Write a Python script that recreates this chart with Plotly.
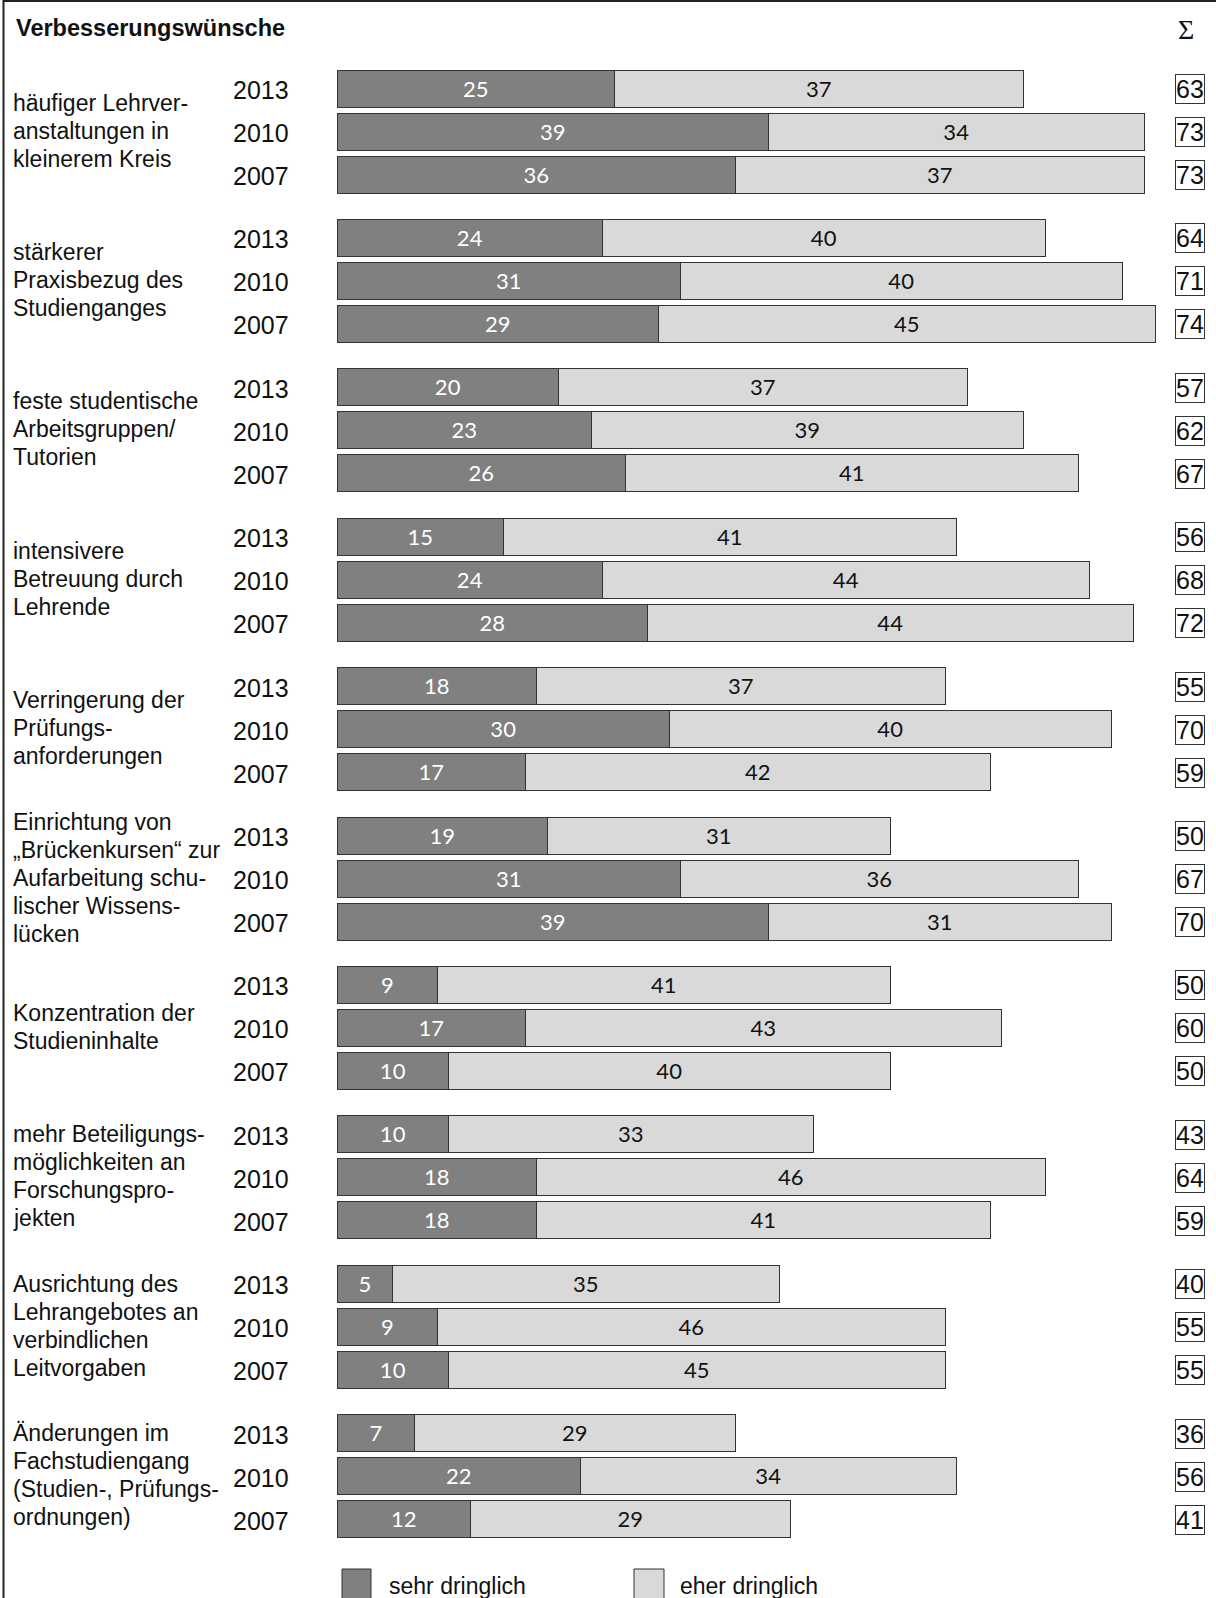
import plotly.graph_objects as go

# ---------------- data ----------------
years = ["2013", "2010", "2007"]

categories = [
    ["häufiger Lehrver-", "anstaltungen in", "kleinerem Kreis"],
    ["stärkerer", "Praxisbezug des", "Studienganges"],
    ["feste studentische", "Arbeitsgruppen/", "Tutorien"],
    ["intensivere", "Betreuung durch", "Lehrende"],
    ["Verringerung der", "Prüfungs-", "anforderungen"],
    ["Einrichtung von", "„Brückenkursen“ zur", "Aufarbeitung schu-", "lischer Wissens-", "lücken"],
    ["Konzentration der", "Studieninhalte"],
    ["mehr Beteiligungs-", "möglichkeiten an", "Forschungspro-", "jekten"],
    ["Ausrichtung des", "Lehrangebotes an", "verbindlichen", "Leitvorgaben"],
    ["Änderungen im", "Fachstudiengang", "(Studien-, Prüfungs-", "ordnungen)"],
]

# values per category in order 2013, 2010, 2007
sehr_dringlich = [
    [25, 39, 36], [24, 31, 29], [20, 23, 26], [15, 24, 28], [18, 30, 17],
    [19, 31, 39], [9, 17, 10], [10, 18, 18], [5, 9, 10], [7, 22, 12],
]
eher_dringlich = [
    [37, 34, 37], [40, 40, 45], [37, 39, 41], [41, 44, 44], [37, 40, 42],
    [31, 36, 31], [41, 43, 40], [33, 46, 41], [35, 46, 45], [29, 34, 29],
]
summe = [
    [63, 73, 73], [64, 71, 74], [57, 62, 67], [56, 68, 72], [55, 70, 59],
    [50, 67, 70], [50, 60, 50], [43, 64, 59], [40, 55, 55], [36, 56, 41],
]

title = "Verbesserungswünsche"
legend_names = ["sehr dringlich", "eher dringlich"]

# ---------------- layout geometry (pixels) ----------------
W, H = 1216, 1598
BAR_X0 = 338          # pixel position of value 0
PX_PER_UNIT = 11.06
Y0 = 89.0             # center of first bar
GROUP_STEP = 149.4
BAR_STEP = 43.0
BAR_H = 37
DARK = "#808080"
LIGHT = "#d9d9d9"
EDGE = "#333333"
SANS = "Liberation Sans, Arial, sans-serif"
BARFONT = "Lato, Calibri, sans-serif"


def px(xp):
    return xp / W


def ypos(i, j):
    return Y0 + i * GROUP_STEP + j * BAR_STEP


ys, v_sehr, v_eher = [], [], []
for i in range(len(categories)):
    for j in range(len(years)):
        ys.append(ypos(i, j))
        v_sehr.append(sehr_dringlich[i][j])
        v_eher.append(eher_dringlich[i][j])

fig = go.Figure()
fig.add_trace(go.Bar(
    orientation="h", x=v_sehr, y=ys, width=BAR_H, name=legend_names[0],
    marker=dict(color=DARK, line=dict(color=EDGE, width=1.5)),
    text=[str(v) for v in v_sehr], textposition="inside", insidetextanchor="middle",
    textangle=0, textfont=dict(family=BARFONT, size=22, color="white"),
    showlegend=False,
))
fig.add_trace(go.Bar(
    orientation="h", x=v_eher, y=ys, width=BAR_H, name=legend_names[1],
    marker=dict(color=LIGHT, line=dict(color=EDGE, width=1.5)),
    text=[str(v) for v in v_eher], textposition="inside", insidetextanchor="middle",
    textangle=0, textfont=dict(family=BARFONT, size=22, color="#111111"),
    showlegend=False,
))

ann = []
# title and sigma
ann.append(dict(x=px(14), y=28, xref="paper", yref="y", text="<b>" + title + "</b>",
                showarrow=False, xanchor="left", yanchor="middle",
                font=dict(family=SANS, size=23.5, color="#111")))
ann.append(dict(x=px(1186), y=29, xref="paper", yref="y", text="Σ",
                showarrow=False, xanchor="center", yanchor="middle",
                font=dict(family="Liberation Serif, Times New Roman, serif", size=28, color="#111")))

LINE_STEP = 28
for i, lines in enumerate(categories):
    yc = ypos(i, 1) - 1.5
    n = len(lines)
    for k, line in enumerate(lines):
        ann.append(dict(x=px(11), y=yc + (k - (n - 1) / 2) * LINE_STEP, xref="paper", yref="y",
                        text=line, showarrow=False, xanchor="left", yanchor="middle",
                        font=dict(family=SANS, size=23, color="#111")))
    for j, yr in enumerate(years):
        ann.append(dict(x=px(261), y=ypos(i, j) + 1, xref="paper", yref="y",
                        text=yr, showarrow=False, xanchor="center", yanchor="middle",
                        font=dict(family=SANS, size=25, color="#111")))
        ann.append(dict(x=px(1205), y=ypos(i, j), xref="paper", yref="y",
                        text=str(summe[i][j]), showarrow=False, xanchor="right", yanchor="middle",
                        bordercolor="#333", borderwidth=1, borderpad=0, bgcolor="white",
                        font=dict(family=SANS, size=25, color="#111")))

# legend (drawn manually)
shapes = []
leg = [(342, 371, 387, DARK), (634, 664, 678, LIGHT)]
for (x0, x1, tx, col), name in zip(leg, legend_names):
    shapes.append(dict(type="rect", xref="paper", yref="y", x0=px(x0), x1=px(x1),
                       y0=1569, y1=1600, fillcolor=col, line=dict(color=EDGE, width=1)))
    ann.append(dict(x=px(tx), y=1586, xref="paper", yref="y", text=name,
                    showarrow=False, xanchor="left", yanchor="middle",
                    font=dict(family=SANS, size=23, color="#111")))

# frame lines (left and top)
shapes.append(dict(type="line", xref="paper", yref="paper", x0=px(3.5), x1=px(3.5), y0=0, y1=1,
                   line=dict(color="#222", width=2)))
shapes.append(dict(type="line", xref="paper", yref="paper", x0=px(3.5), x1=1, y0=1 - 1 / H, y1=1 - 1 / H,
                   line=dict(color="#222", width=2)))

fig.update_layout(
    width=W, height=H, margin=dict(l=0, r=0, t=0, b=0),
    paper_bgcolor="white", plot_bgcolor="white",
    barmode="stack", bargap=0,
    xaxis=dict(range=[-BAR_X0 / PX_PER_UNIT, (W - BAR_X0) / PX_PER_UNIT], visible=False, fixedrange=True),
    yaxis=dict(range=[H, 0], visible=False, fixedrange=True),
    annotations=ann, shapes=shapes,
    uniformtext=dict(minsize=10, mode="show"),
)

fig.write_html("out.html")
